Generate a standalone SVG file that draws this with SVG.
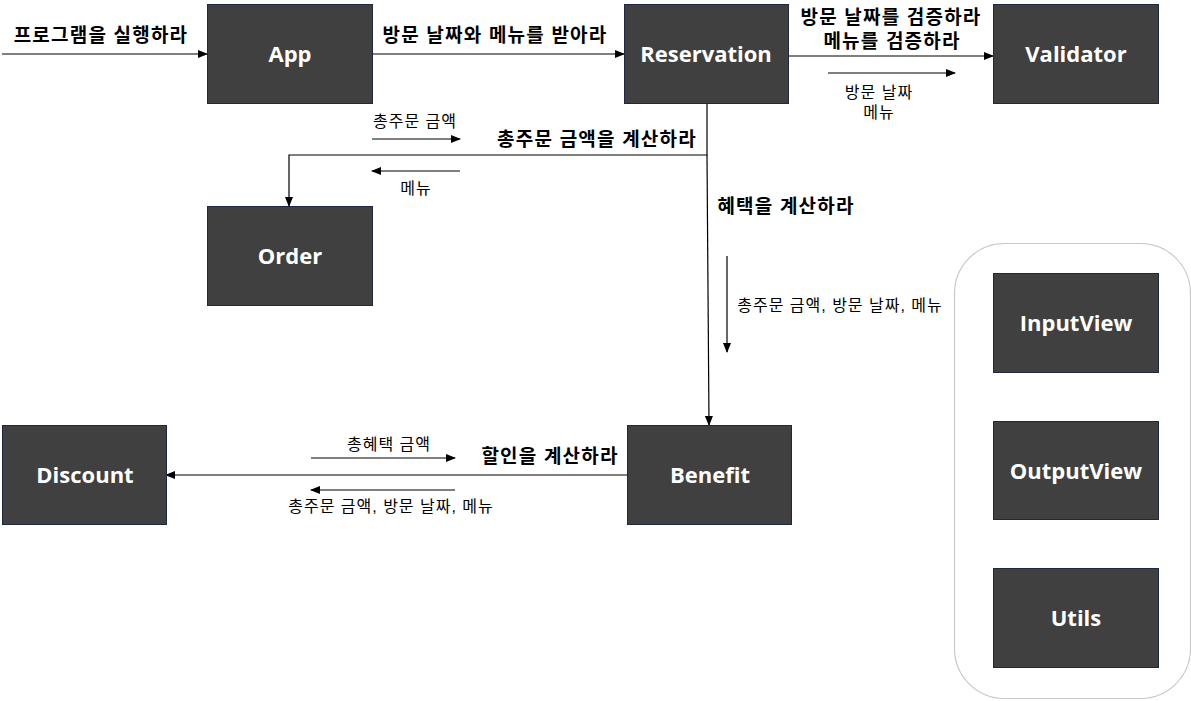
<svg xmlns="http://www.w3.org/2000/svg" width="1191" height="701" viewBox="0 0 1191 701">
<defs>
<marker id="arr" markerWidth="10" markerHeight="8" refX="9" refY="4" orient="auto" markerUnits="userSpaceOnUse">
<path d="M0,0 L10,4 L0,8 Z" fill="#000"/>
</marker>
<style>
.box{fill:#404040;stroke:#1c2940;stroke-width:1}
.bl{font-family:"Open Sans","Noto Sans",sans-serif;font-weight:bold;font-size:22px;fill:#fff;text-anchor:middle}
.big{font-family:"Liberation Sans","Noto Sans CJK KR",sans-serif;font-weight:bold;font-size:19px;letter-spacing:1.2px;fill:#000;text-anchor:middle}
.sm{font-family:"Liberation Sans","Noto Sans CJK KR",sans-serif;font-size:16px;letter-spacing:1px;fill:#000;text-anchor:middle}
.ln{fill:none;stroke:#000;stroke-width:1.2}
</style>
</defs>
<rect width="1191" height="701" fill="#fff"/>
<rect id="panel" x="954.5" y="243.5" width="236" height="455" rx="50" ry="50" fill="#fff" stroke="#c8c8c8" stroke-width="1.2"/>
<g id="connectors">
<line class="ln" x1="2" y1="54" x2="207" y2="54" marker-end="url(#arr)"/>
<line class="ln" x1="372" y1="54" x2="624" y2="54" marker-end="url(#arr)"/>
<line class="ln" x1="788" y1="56" x2="993" y2="56" marker-end="url(#arr)"/>
<line class="ln" x1="828" y1="73" x2="955" y2="73" marker-end="url(#arr)"/>
<polyline class="ln" points="707,103 707,155 289,155 289,206" marker-end="url(#arr)"/>
<line class="ln" x1="372" y1="139" x2="460" y2="139" marker-end="url(#arr)"/>
<line class="ln" x1="460" y1="171" x2="372" y2="171" marker-end="url(#arr)"/>
<line class="ln" x1="707" y1="155" x2="709" y2="425" marker-end="url(#arr)"/>
<line class="ln" x1="727" y1="256" x2="727" y2="352" marker-end="url(#arr)"/>
<line class="ln" x1="627" y1="475" x2="166" y2="475" marker-end="url(#arr)"/>
<line class="ln" x1="311" y1="458" x2="455" y2="458" marker-end="url(#arr)"/>
<line class="ln" x1="455" y1="490" x2="311" y2="490" marker-end="url(#arr)"/>
<text class="big" x="101" y="42">프로그램을 실행하라</text>
<text class="big" x="495" y="42">방문 날짜와 메뉴를 받아라</text>
<text class="big" x="891" y="24">방문 날짜를 검증하라</text>
<text class="big" x="892" y="48">메뉴를 검증하라</text>
<text class="sm" x="879" y="98">방문 날짜</text>
<text class="sm" x="879" y="118">메뉴</text>
<text class="sm" x="415" y="127">총주문 금액</text>
<text class="big" x="597" y="146">총주문 금액을 계산하라</text>
<text class="sm" x="416" y="194">메뉴</text>
<text class="big" x="786" y="213">혜택을 계산하라</text>
<text class="sm" x="840" y="311">총주문 금액, 방문 날짜, 메뉴</text>
<text class="sm" x="389" y="450">총혜택 금액</text>
<text class="big" x="550" y="463">할인을 계산하라</text>
<text class="sm" x="391" y="512">총주문 금액, 방문 날짜, 메뉴</text>
</g>
<g id="App"><rect class="box" x="207.5" y="4.5" width="165" height="99"/><text class="bl" x="290" y="62">App</text></g>
<g id="Reservation"><rect class="box" x="624.5" y="4.5" width="164" height="99"/><text class="bl" x="706" y="62">Reservation</text></g>
<g id="Validator"><rect class="box" x="993.5" y="4.5" width="165" height="99"/><text class="bl" x="1076" y="62">Validator</text></g>
<g id="Order"><rect class="box" x="207.5" y="206.5" width="165" height="99"/><text class="bl" x="290" y="264">Order</text></g>
<g id="Benefit"><rect class="box" x="627.5" y="425.5" width="164" height="99"/><text class="bl" x="710" y="483">Benefit</text></g>
<g id="Discount"><rect class="box" x="2.5" y="425.5" width="164" height="99"/><text class="bl" x="85" y="483">Discount</text></g>
<g id="InputView"><rect class="box" x="993.5" y="273.5" width="165" height="99"/><text class="bl" x="1076" y="331">InputView</text></g>
<g id="OutputView"><rect class="box" x="993.5" y="421.5" width="165" height="98"/><text class="bl" x="1076" y="479">OutputView</text></g>
<g id="Utils"><rect class="box" x="993.5" y="568.5" width="165" height="99"/><text class="bl" x="1076" y="626">Utils</text></g>
</svg>
